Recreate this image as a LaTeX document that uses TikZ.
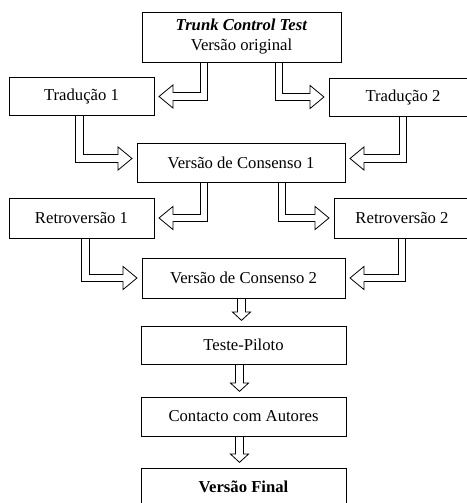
\documentclass[tikz,border=0pt]{standalone}
\usepackage{fontspec}
\setmainfont{Liberation Serif}
\usetikzlibrary{arrows.meta,calc}

\begin{document}
\begin{tikzpicture}[x=0.75pt,y=-0.75pt,
  box/.style={draw,line width=0.6pt,inner sep=0pt,minimum height=28.5pt,
    font=\fontsize{12.5}{15}\selectfont,align=center},
  flow/.style={line width=6.5pt,shorten >=3pt,
    -{Triangle[open,fill=white,line width=0.6pt,length=11.25pt,width=18.5pt]},
    postaction={draw=white,line width=5.2pt,-,shorten >=13.4pt,shorten <=0.4pt}},
  down/.style={line width=6.5pt,shorten >=3.5pt,
    -{Triangle[open,fill=white,line width=0.6pt,length=7pt,width=15pt]},
    postaction={draw=white,line width=5.2pt,-,shorten >=9.4pt,shorten <=0.4pt}}]
  \useasboundingbox (0,0) rectangle (467,503);
  \node[box,minimum width=149.25pt,minimum height=37.5pt] (top) at (241.5,37)
    {\textbf{\textit{Trunk Control Test}}\\Versão original};
  \node[box,minimum width=108.75pt] (trad1) at (81.5,96.5){Tradução 1};
  \node[box,minimum width=111pt] (trad2) at (403,97){Tradução 2};
  \node[box,minimum width=156pt,minimum height=29.25pt] (cons1) at (241,162.5){Versão de Consenso 1};
  \node[box,minimum width=108.75pt,minimum height=30pt] (retro1) at (81.5,218){Retroversão 1};
  \node[box,minimum width=102pt,minimum height=30pt] (retro2) at (402,218){Retroversão 2};
  \node[box,minimum width=152.25pt,minimum height=30pt] (cons2) at (243.5,278){Versão de Consenso 2};
  \node[box,minimum width=153.75pt] (piloto) at (243.5,345){Teste-Piloto};
  \node[box,minimum width=153.75pt,minimum height=29.25pt] (autores) at (243.5,416.5){Contacto com Autores};
  \node[box,minimum width=153.75pt] (final) at (243.5,487){\textbf{Versão Final}};

  \draw[flow] ($(top.south)+(-37.5,0)$) |- (trad1.east);
  \draw[flow] ($(top.south)+(37.5,0)$) |- (trad2.west);
  \draw[flow] ($(trad1.south)+(-2,0)$) |- ($(cons1.west)+(0,-4)$);
  \draw[flow] (trad2.south) |- ($(cons1.east)+(0,-4)$);
  \draw[flow] ($(cons1.south)+(-37,0)$) |- (retro1.east);
  \draw[flow] ($(cons1.south)+(41,0)$) |- (retro2.west);
  \draw[flow] ($(retro1.south)+(4,0)$) |- (cons2.west);
  \draw[flow] (retro2.south) |- (cons2.east);
  \draw[down] ($(cons2.south)+(-2,0)$) -- ($(piloto.north)+(-2,0)$);
  \draw[down] ($(piloto.south)+(-4,0)$) -- ($(autores.north)+(-4,0)$);
  \draw[down] ($(autores.south)+(-4,0)$) -- ($(final.north)+(-4,0)$);
\end{tikzpicture}
\end{document}
